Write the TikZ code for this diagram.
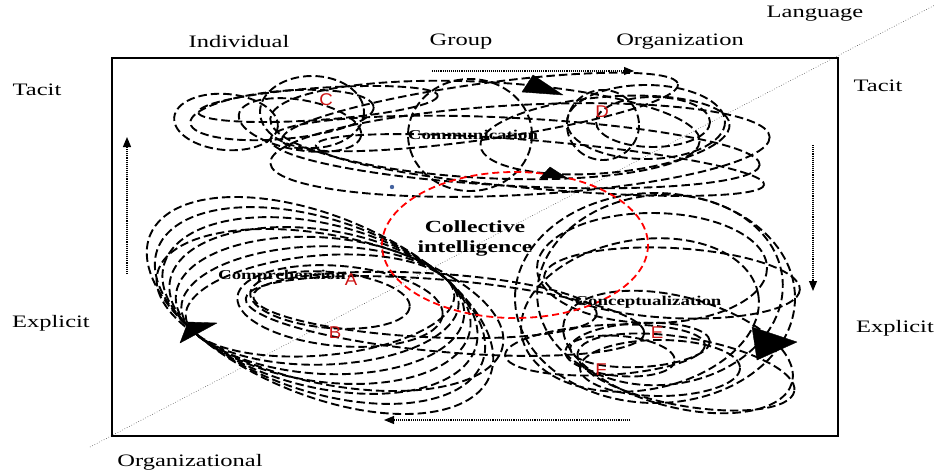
\documentclass[tikz,border=0pt]{standalone}
\usepackage{fontspec}
\setmainfont{Liberation Serif}
\newfontfamily\labelfont[FakeStretch=1.4]{Liberation Serif}
\newfontfamily\markfont[FakeStretch=1.1]{Liberation Sans}
\usetikzlibrary{arrows.meta}
\definecolor{markred}{RGB}{205,20,20}
\definecolor{dotblue}{RGB}{70,100,160}
% closed loop given by centre M, conjugate half-diameters u and v
\newcommand\lobe[6]{\draw[dl] plot[smooth cycle, samples=48, domain=0:352.5]
  ({#1+(#3)*cos(\x)+(#5)*sin(\x)},{#2+(#4)*cos(\x)+(#6)*sin(\x)});}
% rotated dashed ellipse: centre, x radius, y radius, angle
\newcommand\ring[5]{\draw[dl, rotate around={#5:(#1,#2)}] (#1,#2) ellipse [x radius=#3, y radius=#4];}
\begin{document}
\begin{tikzpicture}[x=1pt,y=-1pt,
  dl/.style={dash pattern=on 8.5pt off 4pt, line width=1.9pt, black},
  reddl/.style={dash pattern=on 7pt off 4pt, line width=1.8pt, red},
  axis/.style={dotted, line width=0.6pt, black!70},
  flow/.style={densely dotted, line width=1.1pt, -{Triangle[length=10pt,width=8pt]}},
  head/.style={fill=black, draw=black, line join=round},
  lbl/.style={font=\labelfont\fontsize{17.5}{20}\selectfont, inner sep=0pt},
  stage/.style={font=\labelfont\bfseries\fontsize{13.5}{15}\selectfont, inner sep=0pt},
  phase/.style={font=\markfont\fontsize{17}{18}\selectfont, text=markred, inner sep=0pt}]
\useasboundingbox (0,0) rectangle (938,474);

% diagonal language axis
\coordinate (axA) at (90,447);
\coordinate (axB) at (935,5);
\draw[axis] (axA) -- (axB);

% frame
\draw[line width=2.2pt] (112,58) rectangle (838,436);

% ---- tacit cluster: individual -> organization ----
\ring{226}{122}{52}{28}{-5}
\ring{318}{104}{120}{16}{4}
\ring{312}{112}{52}{36}{0}
\ring{282}{115}{92}{24}{5}
\ring{300}{125}{62}{25}{-10}
\ring{485}{130}{215}{48}{-3}
\ring{470}{135}{62}{56}{0}
\ring{515}{152}{245}{34}{-3}
\ring{540}{165}{225}{24}{-5}
\ring{480}{112}{200}{28}{8}
\ring{520}{150}{250}{45}{3}
\ring{603}{125}{36}{35}{0}
\ring{646}{122}{79}{37}{0}
\ring{653}{122}{57}{25}{0}
\ring{605}{135}{125}{38}{5}

% ---- explicit cluster: comprehension ----
\foreach \k in {1,0.9,0.8,0.7,0.6,0.5,0.41}{
  \lobe{320}{305.5}{125}{-27.5}{-120*\k}{-105*\k}}
\lobe{330}{310}{138}{-22}{-105}{-78}
\ring{330}{300}{80}{28}{-5}
\ring{340}{306}{103}{40}{-5}
\ring{425}{305}{172}{32}{-3}
\ring{445}{316}{200}{36}{-5}

% ---- explicit cluster: conceptualization ----
\ring{655}{298}{140}{105}{0}
\ring{660}{290}{123}{95}{5}
\ring{652}{268}{115}{55}{0}
\ring{672}{283}{128}{35}{-3}
\ring{640}{315}{120}{75}{10}
\ring{640}{345}{70}{22}{3}
\ring{620}{356}{55}{20}{-5}
\ring{660}{368}{80}{28}{0}
\ring{605}{350}{100}{25}{3}
\ring{678}{352}{118}{55}{-15}
\ring{686}{372}{110}{34}{-10}

% collective intelligence
\draw[reddl] (515,245) ellipse [x radius=133, y radius=73];
\fill[dotblue] (392,187) circle (2.2);

% direction heads on the loops
\filldraw[head] (533,75) -- (522,92) -- (563,95) -- cycle;
\filldraw[head] (540,178) -- (550,167) -- (567,178) -- cycle;
\filldraw[head] (180,343) -- (188,322) -- (217,323) -- cycle;
\filldraw[head] (752,327) -- (757,360) -- (797,342) -- cycle;

% flow between levels
\coordinate (fT1) at (432,71);  \coordinate (fT2) at (634,71);
\coordinate (fR1) at (813,145); \coordinate (fR2) at (813,291);
\coordinate (fB1) at (630,420); \coordinate (fB2) at (384,420);
\coordinate (fL1) at (127,274); \coordinate (fL2) at (127,137);
\draw[flow] (fT1) -- (fT2);
\draw[flow] (fR1) -- (fR2);
\draw[flow] (fB1) -- (fB2);
\draw[flow] (fL1) -- (fL2);

% axis labels
\node[lbl] (language) at (815,14) {Language};
\node[lbl] (individual) at (239,42) {Individual};
\node[lbl] (group) at (461,42) {Group};
\node[lbl] (organization) at (680,42) {Organization};
\node[lbl] (tacitL) at (37,90) {Tacit};
\node[lbl] (tacitR) at (878,86) {Tacit};
\node[lbl] (explicitL) at (51,323) {Explicit};
\node[lbl] (explicitR) at (895,328) {Explicit};
\node[lbl] (organizational) at (190,462) {Organizational};

% stage labels
\node[stage] (communication) at (473,135) {Communication};
\node[stage] (comprehension) at (282,276) {Comprehension};
\node[stage] (conceptualization) at (648,302) {Conceptualization};
\node[stage, font=\labelfont\bfseries\fontsize{17}{20}\selectfont, align=center] (collective) at (475,238) {Collective\\intelligence};

% phase markers
\node[phase] (mC) at (326,100) {C};
\node[phase] (mD) at (602,112) {D};
\node[phase] (mA) at (351,280) {A};
\node[phase] (mB) at (335,333) {B};
\node[phase] (mE) at (657,333) {E};
\node[phase] (mF) at (601,370) {F};
\end{tikzpicture}
\end{document}
